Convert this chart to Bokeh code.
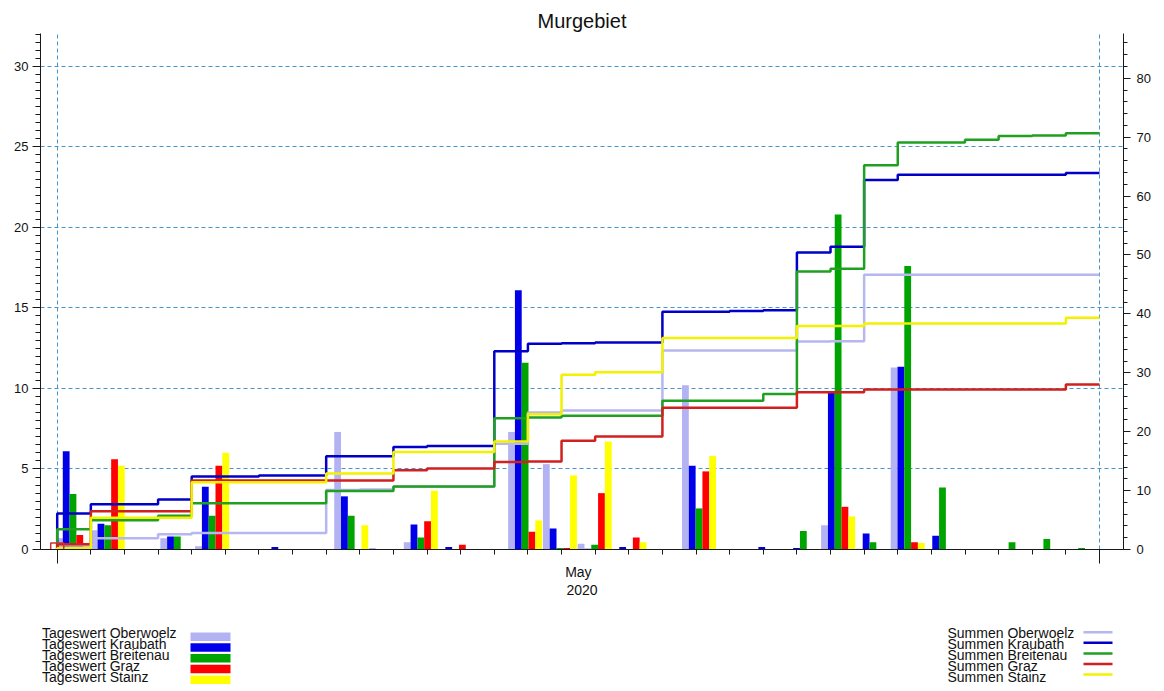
import datetime as dt
from itertools import accumulate

from bokeh.core.properties import value
from bokeh.embed import file_html
from bokeh.layouts import column
from bokeh.models import FixedTicker, LinearAxis, Range1d
from bokeh.plotting import figure
from bokeh.resources import INLINE

# Daily precipitation (mm) per station, 1-31 May 2020
days = [dt.datetime(2020, 5, d) for d in range(1, 32)]
month_end = dt.datetime(2020, 6, 1)

stations = ["Oberwoelz", "Kraubath", "Breitenau", "Graz", "Stainz"]

oberwoelz = [0.7, 1.2, 0, 0.7, 0.2, 0, 0, 0, 7.3, 0.1,
             0.45, 0, 0, 7.3, 5.3, 0.35, 0, 0, 10.2, 0,
             0, 0, 1.5, 0.05, 11.3, 0, 0, 0, 0, 0, 0]
kraubath = [6.1, 1.6, 0, 0.8, 3.9, 0, 0.15, 0, 3.3, 0,
            1.55, 0.15, 0, 16.1, 1.3, 0.05, 0.15, 0, 5.2, 0,
            0.15, 0.1, 9.8, 1.0, 11.35, 0.85, 0, 0, 0, 0, 0.3]
breitenau = [3.45, 1.5, 0, 0.8, 2.1, 0, 0, 0, 2.1, 0,
             0.75, 0, 0, 11.6, 0.1, 0.3, 0, 0, 2.55, 0,
             0, 1.15, 20.8, 0.45, 17.6, 3.85, 0, 0.45, 0.65, 0.1, 0.35]
graz = [0.9, 5.6, 0, 0, 5.2, 0, 0, 0, 0, 0,
        1.75, 0.3, 0, 1.1, 0.1, 3.5, 0.75, 0, 4.85, 0,
        0, 0, 2.65, 0, 0.45, 0, 0, 0, 0, 0, 0.85]
stainz = [0.2, 5.2, 0, 0, 6.0, 0, 0, 0, 1.5, 0,
          3.65, 0, 0, 1.8, 4.6, 6.7, 0.45, 0, 5.8, 0,
          0, 0, 2.05, 0, 0.4, 0, 0, 0, 0, 0, 1.0]

daily = [oberwoelz, kraubath, breitenau, graz, stainz]

# The daily bars run through 30 May; the running sums also take in 31 May.
bar_days = 30

left_ticks = [0, 5, 10, 15, 20, 25, 30]
right_ticks = [0, 10, 20, 30, 40, 50, 60, 70, 80]
month_name, year_name = "May", "2020"

bar_colors = ["#b3b3f3", "#0000e8", "#00a400", "#ff0000", "#ffff00"]
line_colors = ["#b6b6f0", "#0000c8", "#20a020", "#d02020", "#f2f200"]
grid_color = "#4a94cc"
axis_color = "#1a1a1a"
text_color = "#111111"
font = value("Liberation Sans")

DAY = 86400000.0


def ms(d):
    return int((d - dt.datetime(1970, 1, 1)).total_seconds() * 1000)


x_start = ms(days[0]) - 0.497 * DAY
x_end = ms(month_end) + 0.714 * DAY
month_bounds = [ms(days[0]), ms(month_end)]
mid_month = ms(days[0]) + int(15.5 * DAY)

p = figure(width=1164, height=605, x_range=Range1d(x_start, x_end),
           y_range=Range1d(0, 32.04), x_axis_type="datetime",
           output_backend="svg", toolbar_location=None, title="Murgebiet",
           min_border_left=40, min_border_right=41, min_border_top=33,
           min_border_bottom=56, outline_line_color=None,
           background_fill_color="white", border_fill_color="white")
p.title.align = "center"
p.title.text_font = "Liberation Sans"
p.title.text_font_size = "20px"
p.title.text_font_style = "normal"
p.title.text_color = text_color
p.title.standoff = 4

p.extra_y_ranges = {"sum": Range1d(0, 87.6)}
p.extra_x_ranges = {"bars": Range1d(-0.934, 30.205)}

# grids: dashed lines at the left-axis majors and the month boundaries
p.xgrid.ticker = FixedTicker(ticks=month_bounds)
p.ygrid.ticker = FixedTicker(ticks=left_ticks[1:])
for g in (p.xgrid, p.ygrid):
    g.grid_line_color = grid_color
    g.grid_line_dash = "4 3"
    g.grid_line_width = 1

# bottom axis: one tick per day
xa = p.xaxis[0]
xa.ticker = FixedTicker(ticks=[], minor_ticks=[ms(d) for d in days] + [ms(month_end)])
xa.major_tick_out = 5
xa.major_tick_in = 0
xa.minor_tick_out = 5
xa.minor_tick_in = 0
xa.major_label_standoff = 0
xa.axis_line_color = axis_color
xa.major_tick_line_color = axis_color
xa.minor_tick_line_color = axis_color

# second bottom axis: long ticks at the month boundaries, month and year labels
ma = LinearAxis(ticker=FixedTicker(ticks=[mid_month], minor_ticks=month_bounds),
                major_label_overrides={mid_month: month_name},
                axis_label=year_name)
ma.axis_line_color = None
ma.major_tick_in = 0
ma.major_tick_out = 0
ma.minor_tick_in = 5
ma.minor_tick_out = 9
ma.minor_tick_line_color = axis_color
ma.major_label_standoff = 0
ma.major_label_text_font = "Liberation Sans"
ma.major_label_text_font_size = "14px"
ma.major_label_text_color = text_color
ma.axis_label_standoff = 2
ma.axis_label_text_font = "Liberation Sans"
ma.axis_label_text_font_size = "14px"
ma.axis_label_text_font_style = "normal"
ma.axis_label_text_color = text_color
p.add_layout(ma, "below")

ya = p.yaxis[0]
ya.ticker = FixedTicker(ticks=left_ticks, minor_ticks=[0.5 * k for k in range(65)])

ra = LinearAxis(y_range_name="sum",
                ticker=FixedTicker(ticks=right_ticks, minor_ticks=list(range(0, 88, 2))))
p.add_layout(ra, "right")

for ax, tick_len, minor_len, standoff in ((ya, 8, 5, 4), (ra, 7, 4, 6)):
    ax.major_tick_out = tick_len
    ax.major_tick_in = 0
    ax.minor_tick_out = minor_len
    ax.minor_tick_in = 0
    ax.major_label_standoff = standoff
    ax.major_label_text_font = "Liberation Sans"
    ax.major_label_text_font_size = "13px"
    ax.major_label_text_color = text_color
    ax.axis_line_color = axis_color
    ax.major_tick_line_color = axis_color
    ax.minor_tick_line_color = axis_color

# daily bars, five stations side by side within each day's group
bar_w = 0.1955
for k, (vals, col) in enumerate(zip(daily, bar_colors)):
    centers = [i + (k - 2) * bar_w for i in range(bar_days)]
    p.vbar(x=centers, top=vals[:bar_days], width=bar_w, bottom=0,
           x_range_name="bars", fill_color=col, line_color=None)

# running sums as step lines on the right axis
step_x = [days[0]] + days + [month_end]
for vals, col in zip(daily, line_colors):
    cum = list(accumulate(vals))
    step_y = [0] + cum + [cum[-1]]
    p.step(x=step_x, y=step_y, mode="after", y_range_name="sum",
           line_color=col, line_width=2.5)

# start marker at the origin
p.rect(x=[days[0]], y=[0], width=13, height=13, width_units="screen",
       height_units="screen", fill_color=None, line_color="#cc3030", line_width=1.5)

# footer: the two legends
f = figure(width=1164, height=86, x_range=Range1d(40, 1123), y_range=Range1d(86, 0),
           x_axis_location=None, y_axis_location=None, toolbar_location=None,
           title=None, output_backend="svg", min_border_left=40,
           min_border_right=41, min_border_top=0, min_border_bottom=0,
           outline_line_color=None, background_fill_color="white",
           border_fill_color="white")
f.xgrid.visible = False
f.ygrid.visible = False

rows = list(range(len(stations)))
text_y = [27.5 + 11 * j for j in rows]
f.text(x=[41.5] * 5, y=text_y, text=["Tageswert " + s for s in stations],
       text_font=font, text_font_size="14px",
       text_baseline="alphabetic", text_color=text_color)
f.quad(left=[190] * 5, right=[230] * 5,
       top=[27 + 10.75 * j for j in rows], bottom=[35.5 + 10.75 * j for j in rows],
       fill_color=bar_colors, line_color=None)

f.text(x=[947] * 5, y=text_y, text=["Summen " + s for s in stations],
       text_font=font, text_font_size="14px",
       text_baseline="alphabetic", text_color=text_color)
line_y = [26.7 + 10.6 * j for j in rows]
f.segment(x0=[1083] * 5, x1=[1112] * 5, y0=line_y, y1=line_y,
          line_color=line_colors, line_width=2.5)

layout = column(p, f, spacing=0)
open("out.html", "w").write(file_html(layout, INLINE))
